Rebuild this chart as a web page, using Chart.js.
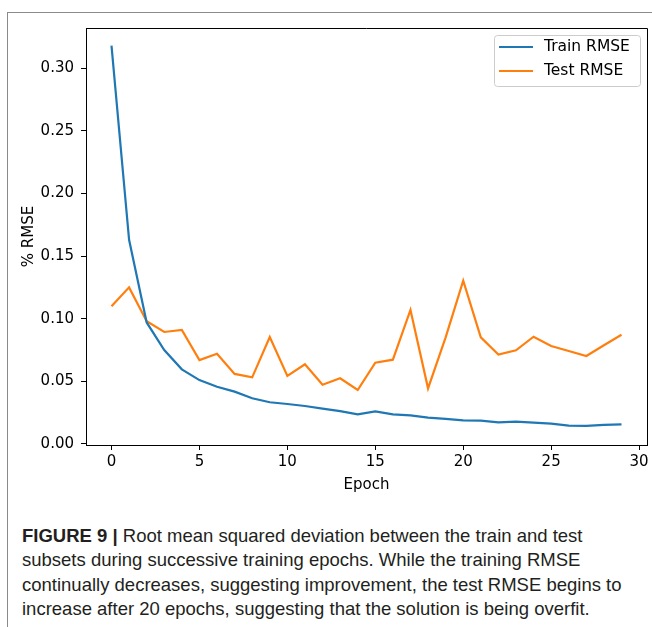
<!DOCTYPE html>
<html>
<head>
<meta charset="utf-8">
<script src="https://cdn.jsdelivr.net/npm/chart.js@4/dist/chart.umd.min.js"></script>
<style>
  body { margin: 0; background: #fff; }
  #wrap { position: relative; width: 652px; height: 627px; overflow: hidden; }
  #frameTop { position: absolute; left: 7px; top: 12px; width: 645px; height: 0; border-top: 1px solid #8a8a8a; }
  #frameLeft { position: absolute; left: 7px; top: 12px; width: 0; height: 615px; border-left: 1px solid #8a8a8a; }
  #chart { position: absolute; left: 0; top: 0; }
  #caption {
    position: absolute; left: 22px; top: 524px; width: 628px;
    font-family: "Liberation Sans Narrow", "Liberation Sans", Arial, sans-serif;
    font-size: 18.5px; line-height: 24.3px; color: #231f20; white-space: nowrap;
  }
  #caption b { font-weight: bold; }
</style>
</head>
<body>
<div id="wrap">
  <div id="frameTop"></div>
  <div id="frameLeft"></div>
  <canvas id="chart" width="652" height="500"></canvas>
  <div id="caption"><b>FIGURE 9 |</b> Root mean squared deviation between the train and test<br>subsets during successive training epochs. While the training RMSE<br>continually decreases, suggesting improvement, the test RMSE begins to<br>increase after 20 epochs, suggesting that the solution is being overfit.</div>
</div>
<script>
const epochs = [0, 1, 2, 3, 4, 5, 6, 7, 8, 9, 10, 11, 12, 13, 14, 15, 16, 17, 18, 19, 20, 21, 22, 23, 24, 25, 26, 27, 28, 29];
const trainRmse = [0.318, 0.163, 0.097, 0.075, 0.0596, 0.051, 0.0457, 0.0418, 0.0365, 0.0333,
                   0.0319, 0.0303, 0.0282, 0.0263, 0.0237, 0.0261, 0.0237, 0.0229, 0.021, 0.020,
                   0.0189, 0.0186, 0.0173, 0.0178, 0.017, 0.0162, 0.0146, 0.0144, 0.0152, 0.0157];
const testRmse = [0.110, 0.125, 0.098, 0.0894, 0.091, 0.067, 0.072, 0.0559, 0.0532, 0.0854,
                  0.0543, 0.0636, 0.0473, 0.0524, 0.0431, 0.0649, 0.0673, 0.107, 0.0444, 0.0851,
                  0.1303, 0.0851, 0.0713, 0.0748, 0.0856, 0.0782, 0.0742, 0.0702, 0.0788, 0.0872];
const xTicks = [0, 5, 10, 15, 20, 25, 30];
const yTicks = [0, 0.05, 0.10, 0.15, 0.20, 0.25, 0.30];

const tickFont = { family: 'DejaVu Sans', size: 15 };
const labelFont = { family: 'DejaVu Sans', size: 15 };
const legendFont = { family: 'DejaVu Sans', size: 15.5 };

// box spines + legend inside the plot
const frameAndLegend = {
    id: 'frameAndLegend',
    afterDraw(chart) {
        const ctx = chart.ctx;
        const a = chart.chartArea;
        ctx.save();
        ctx.strokeStyle = '#000';
        ctx.lineWidth = 1;
        ctx.beginPath();
        ctx.moveTo(a.left, a.top + 0.5);
        ctx.lineTo(a.right + 0.5, a.top + 0.5);
        ctx.lineTo(a.right + 0.5, a.bottom);
        ctx.stroke();

        // legend box
        const w = 146, h = 51;
        const bx = a.right - 7 - w, by = a.top + 7;
        ctx.fillStyle = 'rgba(255,255,255,0.8)';
        ctx.strokeStyle = '#cccccc';
        ctx.beginPath();
        ctx.roundRect(bx + 0.5, by + 0.5, w, h, 3);
        ctx.fill();
        ctx.stroke();

        ctx.font = `${legendFont.size}px ${legendFont.family}`;
        ctx.textBaseline = 'middle';
        chart.data.datasets.forEach((ds, i) => {
            const y = by + 12 + i * 24;
            ctx.strokeStyle = ds.borderColor;
            ctx.lineWidth = 2;
            ctx.beginPath();
            ctx.moveTo(bx + 5, y);
            ctx.lineTo(bx + 39, y);
            ctx.stroke();
            ctx.fillStyle = '#000';
            ctx.fillText(ds.label, bx + 50, y);
        });
        ctx.restore();
    }
};

new Chart(document.getElementById('chart').getContext('2d'), {
    type: 'line',
    data: {
        datasets: [
            {
                label: 'Train RMSE',
                data: epochs.map((e, i) => ({ x: e, y: trainRmse[i] })),
                borderColor: '#1f77b4',
                borderWidth: 2.2
            },
            {
                label: 'Test RMSE',
                data: epochs.map((e, i) => ({ x: e, y: testRmse[i] })),
                borderColor: '#ff7f0e',
                borderWidth: 2.2
            }
        ]
    },
    options: {
        responsive: false,
        animation: false,
        devicePixelRatio: 1,
        layout: { padding: { top: 28, right: 5, left: 0, bottom: 0 } },
        elements: { point: { radius: 0 }, line: { tension: 0 } },
        plugins: {
            legend: { display: false },
            tooltip: { enabled: false }
        },
        scales: {
            x: {
                type: 'linear',
                min: -1.45,
                max: 30.45,
                afterBuildTicks: s => { s.ticks = xTicks.map(v => ({ value: v })); },
                afterFit: s => { s.height = 55; s.paddingLeft = 0; s.paddingRight = 0; },
                grid: { display: true, drawOnChartArea: false, drawTicks: true, tickLength: 5, color: '#000' },
                border: { display: true, color: '#000', width: 1 },
                ticks: { color: '#000', font: tickFont, padding: 3, maxRotation: 0, autoSkip: false },
                title: { display: true, text: 'Epoch', color: '#000', font: labelFont, padding: { top: 0, bottom: 6 } }
            },
            y: {
                min: -0.0008,
                max: 0.332,
                afterBuildTicks: s => { s.ticks = yTicks.map(v => ({ value: v })); },
                afterFit: s => { s.width = 86; s.paddingTop = 0; s.paddingBottom = 0; },
                grid: { display: true, drawOnChartArea: false, drawTicks: true, tickLength: 5, color: '#000' },
                border: { display: true, color: '#000', width: 1 },
                ticks: { color: '#000', font: tickFont, padding: 7, callback: v => v.toFixed(2) },
                title: { display: true, text: '% RMSE', color: '#000', font: labelFont, padding: { top: 20, bottom: 0 } }
            }
        }
    },
    plugins: [frameAndLegend]
});
</script>
</body>
</html>
